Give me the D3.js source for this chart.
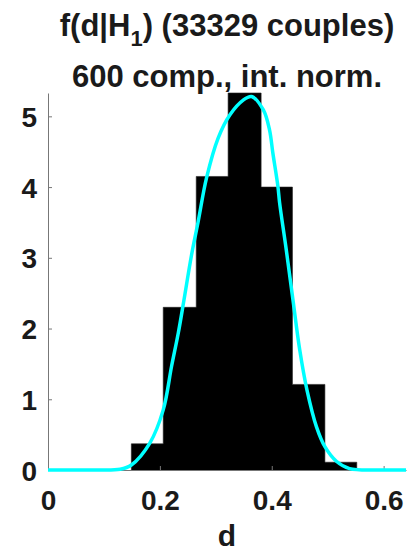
<html><head>
<script src="https://d3js.org/d3.v7.min.js"></script>
<style>
  body { margin: 0; background: #fff; }
  text { font-family: "Liberation Sans", Arial, Helvetica, sans-serif; font-weight: bold; fill: #1a1a1a; }
</style>
</head>
<body>
<svg id="chart" width="410" height="553"></svg>
<script>
// histogram bins (edges + densities)
const binEdges = [0.149, 0.206, 0.265, 0.322, 0.381, 0.437, 0.495, 0.552];
const binHeights = [0.37, 2.30, 4.15, 5.33, 4.00, 1.21, 0.11];

// fitted density
const curveX = [0, 0.08, 0.129, 0.149, 0.182, 0.206, 0.221, 0.233, 0.243, 0.2566, 0.2684, 0.2834, 0.304, 0.325, 0.349, 0.364, 0.385, 0.396, 0.402, 0.411, 0.414, 0.426, 0.438, 0.45, 0.463, 0.48, 0.495, 0.516, 0.539, 0.593, 0.64];
const curveY = [0, 0, 0.01, 0.07, 0.38, 0.85, 1.47, 1.94, 2.40, 3.04, 3.51, 4.13, 4.69, 5.02, 5.23, 5.28, 5.09, 4.81, 4.48, 4.01, 3.78, 3.11, 2.40, 1.70, 1.13, 0.61, 0.33, 0.12, 0.02, 0, 0];

const xTicks = [0, 0.2, 0.4, 0.6];
const yTicks = [0, 1, 2, 3, 4, 5];

const svg = d3.select("#chart");
const mLeft = 48, mRight = 406, mTop = 93, mBottom = 470;

const x = d3.scaleLinear().domain([0, 0.64]).range([mLeft, mRight]);
const y = d3.scaleLinear().domain([0, 5.33]).range([mBottom, mTop]);

// bars: one stepped outline so there are no seams between adjacent bins
const steps = [[binEdges[0], 0]];
binHeights.forEach((h, i) => { steps.push([binEdges[i], h], [binEdges[i + 1], h]); });
steps.push([binEdges[binEdges.length - 1], 0]);
svg.append("path").datum(steps)
    .attr("d", d3.line().x(d => x(d[0])).y(d => y(d[1])))
    .attr("fill", "black")
    .attr("stroke", "#222")
    .attr("stroke-width", 0.6);

// axes
const xAxis = svg.append("g").attr("transform", `translate(0,${mBottom})`)
    .call(d3.axisBottom(x).tickValues(xTicks).tickSizeInner(-4).tickSizeOuter(0).tickPadding(20).tickFormat(d => d === 0 ? "0" : d3.format(".1f")(d)));
const yAxis = svg.append("g").attr("transform", `translate(${mLeft},0)`)
    .call(d3.axisLeft(y).tickValues(yTicks).tickSizeInner(-4).tickSizeOuter(0).tickPadding(11).tickFormat(d3.format("d")));

[xAxis, yAxis].forEach(a => {
    a.select(".domain").attr("stroke", "#777").attr("stroke-width", 1);
    a.selectAll(".tick line").attr("stroke", "#777");
    a.selectAll("text").attr("font-size", 28).style("font-family", '"Liberation Sans", Arial, sans-serif').attr("fill", "#1a1a1a");
});
yAxis.selectAll("text").attr("dy", "0.36em");

// density curve
const line = d3.line().x((d, i) => x(curveX[i])).y(d => y(d)).curve(d3.curveCatmullRom.alpha(0.5));
svg.append("path").datum(curveY)
    .attr("d", line)
    .attr("fill", "none")
    .attr("stroke", "#00ffff")
    .attr("stroke-width", 3.5);

// titles
const cx = (mLeft + mRight) / 2;
const t1 = svg.append("text").attr("x", cx).attr("y", 36).attr("text-anchor", "middle").attr("font-size", 31);
t1.append("tspan").text("f(d|H");
t1.append("tspan").attr("font-size", 22).attr("dy", 10).text("1");
t1.append("tspan").attr("dy", -10).text(") (33329 couples)");
svg.append("text").attr("x", cx).attr("y", 87).attr("text-anchor", "middle").attr("font-size", 31)
    .text("600 comp., int. norm.");

svg.append("text").attr("x", x(0.32)).attr("y", 546).attr("text-anchor", "middle").attr("font-size", 30).text("d");
</script>
</body>
</html>
